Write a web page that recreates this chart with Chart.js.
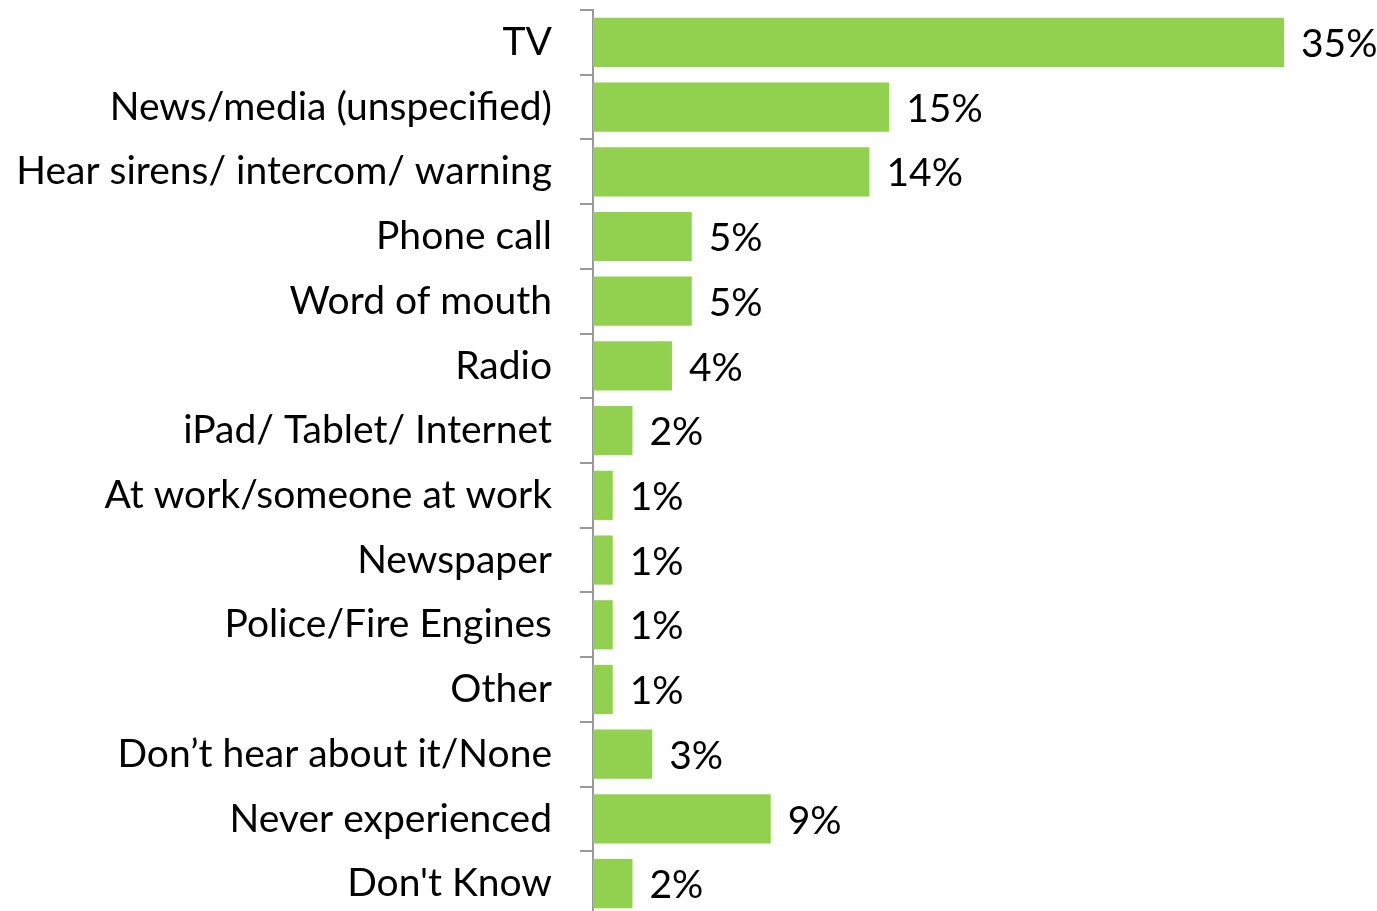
<!DOCTYPE html>
<html>
<head>
<meta charset="utf-8">
<script src="https://cdn.jsdelivr.net/npm/chart.js@4/dist/chart.umd.min.js"></script>
<style>
  html, body { margin: 0; padding: 0; background: #fff; overflow: hidden; }
  #wrap { width: 1377px; height: 916px; }
</style>
</head>
<body>
<div id="wrap"><canvas id="sourcesChart"></canvas></div>
<script>
const categories = [
    'TV',
    'News/media (unspecified)',
    'Hear sirens/ intercom/ warning',
    'Phone call',
    'Word of mouth',
    'Radio',
    'iPad/ Tablet/ Internet',
    'At work/someone at work',
    'Newspaper',
    'Police/Fire Engines',
    'Other',
    'Don\u2019t hear about it/None',
    'Never experienced',
    'Don\'t Know'
];
const percents = [35, 15, 14, 5, 5, 4, 2, 1, 1, 1, 1, 3, 9, 2];

const fontFamily = 'Lato, "Open Sans", sans-serif';
const fontSize = 39;

// writes "NN%" just past the end of each bar
const valueLabels = {
    id: 'valueLabels',
    afterDatasetsDraw(chart) {
        const ctx = chart.ctx;
        const meta = chart.getDatasetMeta(0);
        ctx.save();
        ctx.font = fontSize + 'px ' + fontFamily;
        ctx.fillStyle = '#000';
        ctx.textAlign = 'left';
        ctx.textBaseline = 'middle';
        meta.data.forEach((bar, i) => {
            ctx.fillText(percents[i] + '%', bar.x + 17, bar.y + 2);
        });
        ctx.restore();
    }
};

document.addEventListener("DOMContentLoaded", function () {
    const ctx = document.getElementById('sourcesChart').getContext('2d');

    new Chart(ctx, {
        type: 'bar',
        data: {
            labels: categories,
            datasets: [{
                data: percents,
                backgroundColor: '#92D050',
                borderWidth: 0,
                barPercentage: 0.76,
                categoryPercentage: 1
            }]
        },
        options: {
            indexAxis: 'y',
            responsive: true,
            maintainAspectRatio: false,
            animation: false,
            layout: { padding: { top: 10, right: 93, bottom: 0, left: 0 } },
            plugins: {
                legend: { display: false },
                tooltip: { enabled: false }
            },
            scales: {
                x: {
                    display: false,
                    min: 0,
                    max: 35
                },
                y: {
                    afterFit(scale) {
                        scale.width = 593;
                        scale.paddingTop = 0;
                        scale.paddingBottom = 0;
                    },
                    border: { display: true, color: '#999', width: 2 },
                    grid: {
                        offset: true,
                        drawOnChartArea: false,
                        drawTicks: true,
                        tickLength: 13,
                        color: '#999',
                        lineWidth: 2
                    },
                    ticks: {
                        padding: 28,
                        color: '#000',
                        autoSkip: false,
                        font: { family: fontFamily, size: fontSize }
                    }
                }
            }
        },
        plugins: [valueLabels]
    });
});
</script>
</body>
</html>
